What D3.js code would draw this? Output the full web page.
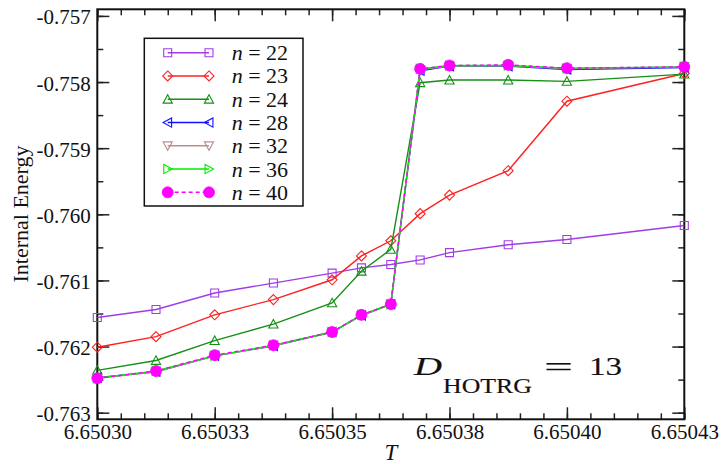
<!DOCTYPE html>
<html>
<head>
<meta charset="utf-8">
<script src="https://cdn.jsdelivr.net/npm/d3@7"></script>
<style>
  html, body { margin: 0; padding: 0; background: #fff; }
  svg { display: block; font-family: "Liberation Serif", "Times New Roman", serif; }
</style>
</head>
<body>
<svg id="chart" width="722" height="464"></svg>
<script>
// Temperatures sampled near the transition
const T = [6.650300, 6.650313, 6.650326, 6.650339, 6.650352, 6.6503585,
           6.650365, 6.6503715, 6.650378, 6.650391, 6.650404, 6.650430];

// Internal energy per iteration count n
const e22 = [-0.76156, -0.76144, -0.76119, -0.76104, -0.76089, -0.76081,
             -0.76076, -0.76069, -0.76058, -0.76046, -0.76038, -0.76017];
const e23 = [-0.76201, -0.76185, -0.76152, -0.76129, -0.76099, -0.76063,
             -0.76040, -0.75999, -0.75971, -0.75934, -0.75829, -0.75787];
const e24 = [-0.76236, -0.76221, -0.76191, -0.76166, -0.76134, -0.76086,
             -0.76053, -0.75801, -0.75797, -0.75797, -0.75799, -0.75788];
const e28 = [-0.76247, -0.76238, -0.76214, -0.76199, -0.76178, -0.76153,
             -0.76136, -0.75783, -0.75776, -0.75776, -0.75781, -0.75778];
const e32 = [-0.76248, -0.76238, -0.76214, -0.76199, -0.76178, -0.76153,
             -0.76136, -0.75781, -0.75776, -0.75775, -0.75780, -0.75777];
const e36 = [-0.76248, -0.76237, -0.76214, -0.76198, -0.76178, -0.76152,
             -0.76136, -0.75780, -0.75775, -0.75775, -0.75779, -0.75777];
const e40 = [-0.76248, -0.76237, -0.76213, -0.76198, -0.76178, -0.76152,
             -0.76136, -0.75780, -0.75775, -0.75774, -0.75779, -0.75777];

const seriesNames = ["22", "23", "24", "28", "32", "36", "40"];

const xTicks = [6.650300, 6.650326, 6.650352, 6.650378, 6.650404, 6.650430];
const xTickLabels = ["6.65030", "6.65033", "6.65035", "6.65038", "6.65040", "6.65043"];
const yTicks = [-0.757, -0.758, -0.759, -0.760, -0.761, -0.762, -0.763];
const yTickLabels = ["-0.757", "-0.758", "-0.759", "-0.760", "-0.761", "-0.762", "-0.763"];

// Styling for each series
const styles = [
  { values: e22, color: "#a03ce6", marker: "square", fill: "none", dash: null },
  { values: e23, color: "#ff2020", marker: "diamond", fill: "none", dash: null },
  { values: e24, color: "#159015", marker: "triUp", fill: "none", dash: null },
  { values: e28, color: "#1010ff", marker: "triLeft", fill: "none", dash: null },
  { values: e32, color: "#bc8f8f", marker: "triDown", fill: "none", dash: null },
  { values: e36, color: "#00ee00", marker: "triRight", fill: "none", dash: null },
  { values: e40, color: "#ff00ff", marker: "circle", fill: "#ff00ff", dash: "4,3" }
];

const svg = d3.select("#chart");
const L = 97.3, R = 684.3, Tp = 9.3, B = 419.3;

const x = d3.scaleLinear().domain([6.650300, 6.650430]).range([L, R]);
const y = d3.scaleLinear().domain([-0.7631, -0.7569]).range([B, Tp]);

function markerPath(type) {
  switch (type) {
    case "square": { const s = 4; return `M${-s},${-s}H${s}V${s}H${-s}Z`; }
    case "diamond": { const s = 5; return `M0,${-s}L${s},0L0,${s}L${-s},0Z`; }
    case "triUp": { const s = 4.6; return `M0,${-s}L${s},${s * 0.85}L${-s},${s * 0.85}Z`; }
    case "triDown": { const s = 4.6; return `M0,${s}L${s},${-s * 0.85}L${-s},${-s * 0.85}Z`; }
    case "triLeft": { const s = 4.6; return `M${-s},0L${s * 0.85},${-s}L${s * 0.85},${s}Z`; }
    case "triRight": { const s = 4.6; return `M${s},0L${-s * 0.85},${-s}L${-s * 0.85},${s}Z`; }
    case "circle": { const r = 5.5; return `M${r},0A${r},${r} 0 1,1 ${-r},0A${r},${r} 0 1,1 ${r},0Z`; }
  }
}

function drawMarker(g, type, color, fill, cx, cy) {
  g.append("path")
    .attr("d", markerPath(type))
    .attr("transform", `translate(${cx},${cy})`)
    .attr("fill", fill)
    .attr("stroke", color)
    .attr("stroke-width", type === "circle" ? 0.8 : 1.1);
}

// Frame and ticks (all ticks point inward)
const axisG = svg.append("g");
const minorX = d3.range(0, 26).map(i => 6.650300 + i * 0.0000052);
const minorY = d3.range(0, 13).map(i => -0.763 + i * 0.0005);

function styleAxis(g) {
  g.select(".domain").remove();
  g.selectAll("line").attr("stroke", "#222").attr("stroke-width", 1.5);
}

axisG.append("g").attr("transform", `translate(0,${B})`)
  .call(d3.axisBottom(x).tickValues(minorX).tickSize(-6).tickFormat(""))
  .call(styleAxis);
axisG.append("g").attr("transform", `translate(0,${Tp})`)
  .call(d3.axisTop(x).tickValues(minorX).tickSize(-6).tickFormat(""))
  .call(styleAxis);
axisG.append("g").attr("transform", `translate(${L},0)`)
  .call(d3.axisLeft(y).tickValues(minorY).tickSize(-6).tickFormat(""))
  .call(styleAxis);
axisG.append("g").attr("transform", `translate(${R},0)`)
  .call(d3.axisRight(y).tickValues(minorY).tickSize(-6).tickFormat(""))
  .call(styleAxis);

const xb = axisG.append("g").attr("transform", `translate(0,${B})`)
  .call(d3.axisBottom(x).tickValues(xTicks).tickSize(-12).tickPadding(0)
    .tickFormat((d, i) => xTickLabels[i]))
  .call(styleAxis);
xb.selectAll("text").attr("y", 20).attr("dy", 0)
  .attr("font-size", 21).attr("fill", "#111")
  .attr("font-family", "Liberation Serif, serif");
axisG.append("g").attr("transform", `translate(0,${Tp})`)
  .call(d3.axisTop(x).tickValues(xTicks).tickSize(-12).tickFormat(""))
  .call(styleAxis);

const yl = axisG.append("g").attr("transform", `translate(${L},0)`)
  .call(d3.axisLeft(y).tickValues(yTicks).tickSize(-12).tickPadding(0)
    .tickFormat((d, i) => yTickLabels[i]))
  .call(styleAxis);
yl.selectAll("text").attr("x", -6.5).attr("dy", 8)
  .attr("font-size", 21).attr("fill", "#111")
  .attr("font-family", "Liberation Serif, serif");
axisG.append("g").attr("transform", `translate(${R},0)`)
  .call(d3.axisRight(y).tickValues(yTicks).tickSize(-12).tickFormat(""))
  .call(styleAxis);

axisG.append("rect")
  .attr("x", L).attr("y", Tp).attr("width", R - L).attr("height", B - Tp)
  .attr("fill", "none").attr("stroke", "#111").attr("stroke-width", 2);

// Data series
const line = d3.line().x((d, i) => x(T[i])).y(d => y(d));
const plotG = svg.append("g");
styles.forEach(s => {
  const g = plotG.append("g");
  g.append("path")
    .attr("d", line(s.values))
    .attr("fill", "none")
    .attr("stroke", s.color)
    .attr("stroke-width", 1.4)
    .attr("stroke-dasharray", s.dash);
  s.values.forEach((v, i) => drawMarker(g, s.marker, s.color, s.fill, x(T[i]), y(v)));
});

// Axis titles
svg.append("text")
  .attr("transform", "translate(28,214) rotate(-90)")
  .attr("text-anchor", "middle")
  .attr("font-size", 22)
  .attr("fill", "#111")
  .text("Internal Energy");
svg.append("text")
  .attr("x", (L + R) / 2).attr("y", 460)
  .attr("text-anchor", "middle")
  .attr("font-size", 23)
  .attr("font-style", "italic")
  .attr("fill", "#111")
  .text("T");

// Legend
const lg = svg.append("g");
lg.append("rect")
  .attr("x", 144.3).attr("y", 38.3).attr("width", 158.7).attr("height", 167.7)
  .attr("fill", "#fff").attr("stroke", "#111").attr("stroke-width", 1.5);
styles.forEach((s, i) => {
  const ry = 52.7 + i * 23.27;
  const g = lg.append("g");
  g.append("line")
    .attr("x1", 167.7).attr("x2", 209).attr("y1", ry).attr("y2", ry)
    .attr("stroke", s.color).attr("stroke-width", 1.4)
    .attr("stroke-dasharray", s.dash);
  drawMarker(g, s.marker, s.color, s.fill, 167.7, ry);
  drawMarker(g, s.marker, s.color, s.fill, 209, ry);
  const t = g.append("text")
    .attr("x", 231.7).attr("y", ry + 7.5)
    .attr("font-size", 22).attr("fill", "#111");
  t.append("tspan").attr("font-style", "italic").text("n");
  t.append("tspan").text(" = " + seriesNames[i]);
});

// Bond dimension annotation
const ann = svg.append("g").attr("fill", "#111").attr("stroke", "#111").attr("stroke-width", 0.15);
ann.append("text").attr("x", 414).attr("y", 375)
  .attr("font-size", 26).attr("font-style", "italic")
  .attr("textLength", 28).attr("lengthAdjust", "spacingAndGlyphs")
  .text("D");
ann.append("text").attr("x", 443).attr("y", 393)
  .attr("font-size", 21).attr("textLength", 89).attr("lengthAdjust", "spacingAndGlyphs")
  .text("HOTRG");
ann.append("text").attr("x", 544).attr("y", 376)
  .attr("font-size", 28).attr("textLength", 29).attr("lengthAdjust", "spacingAndGlyphs")
  .text("=");
ann.append("text").attr("x", 589).attr("y", 375)
  .attr("font-size", 26).attr("textLength", 33).attr("lengthAdjust", "spacingAndGlyphs")
  .text("13");
</script>
</body>
</html>
